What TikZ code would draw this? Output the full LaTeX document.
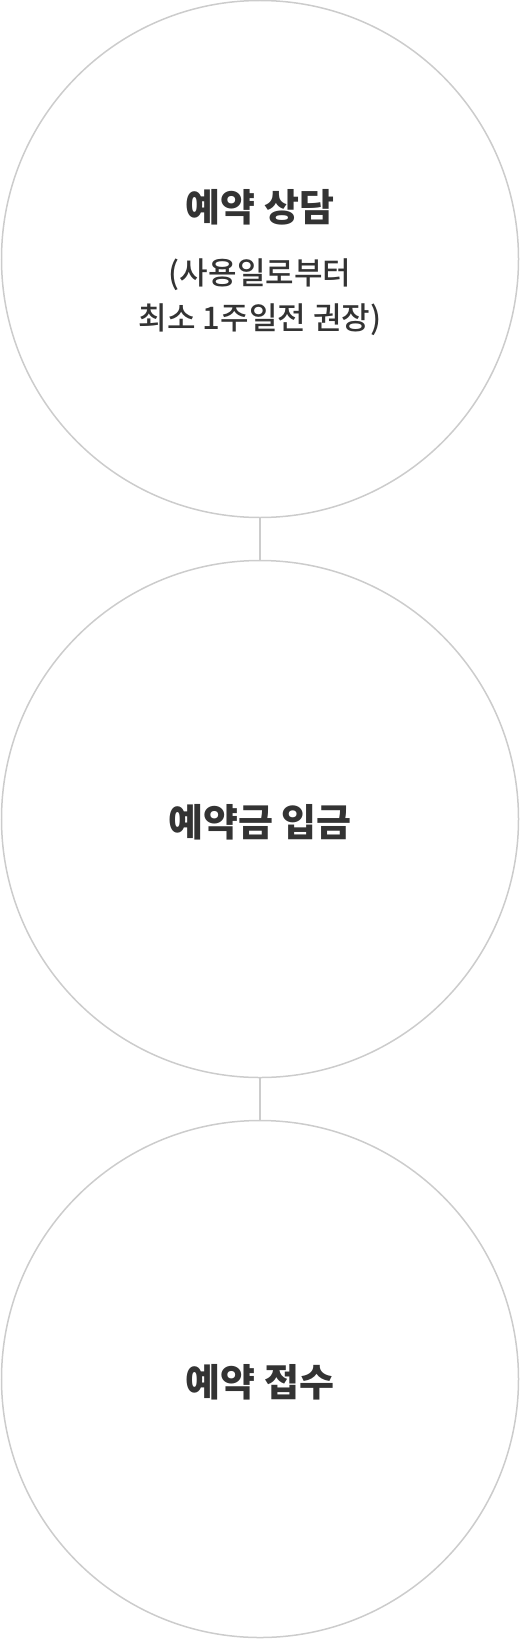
\documentclass[tikz,border=0pt]{standalone}
\usepackage{fontspec}
\setmainfont{Noto Sans CJK KR}
\newfontfamily\krmed{Noto Sans CJK KR}[UprightFont={* Medium}]
\definecolor{ringgray}{HTML}{CCCCCC}
\definecolor{textgray}{HTML}{333333}
\newcommand{\stagetitle}{\fontsize{38}{44}\bfseries\selectfont}
\newcommand{\stagenote}{\krmed\fontsize{31}{45}\selectfont}
\begin{document}
\begin{tikzpicture}[x=1pt,y=1pt]
\tikzstyle{every node}+=[inner sep=0pt]
\tikzstyle{stage}=[circle,draw=ringgray,line width=1.5pt,minimum size=517pt]
\tikzstyle{caption}=[text=textgray,align=center,font=\stagenote]
\useasboundingbox (0,0) rectangle (520,-1640);
\node [stage] (consult) at (260,-259) {};
\node [stage] (deposit) at (260,-819) {};
\node [stage] (receipt) at (260,-1379) {};
\node [caption] (consulttext) at ([yshift=-4pt]consult.center) {{\stagetitle 예약 상담}\\[18pt] (사용일로부터\\ 최소 1주일전 권장)};
\node [caption] (deposittext) at ([yshift=-3pt]deposit.center) {\stagetitle 예약금 입금};
\node [caption] (receipttext) at ([yshift=-3pt]receipt.center) {\stagetitle 예약 접수};
\draw [ringgray, line width=1.5pt] (consult) -- (deposit);
\draw [ringgray, line width=1.5pt] (deposit) -- (receipt);
\end{tikzpicture}
\end{document}
